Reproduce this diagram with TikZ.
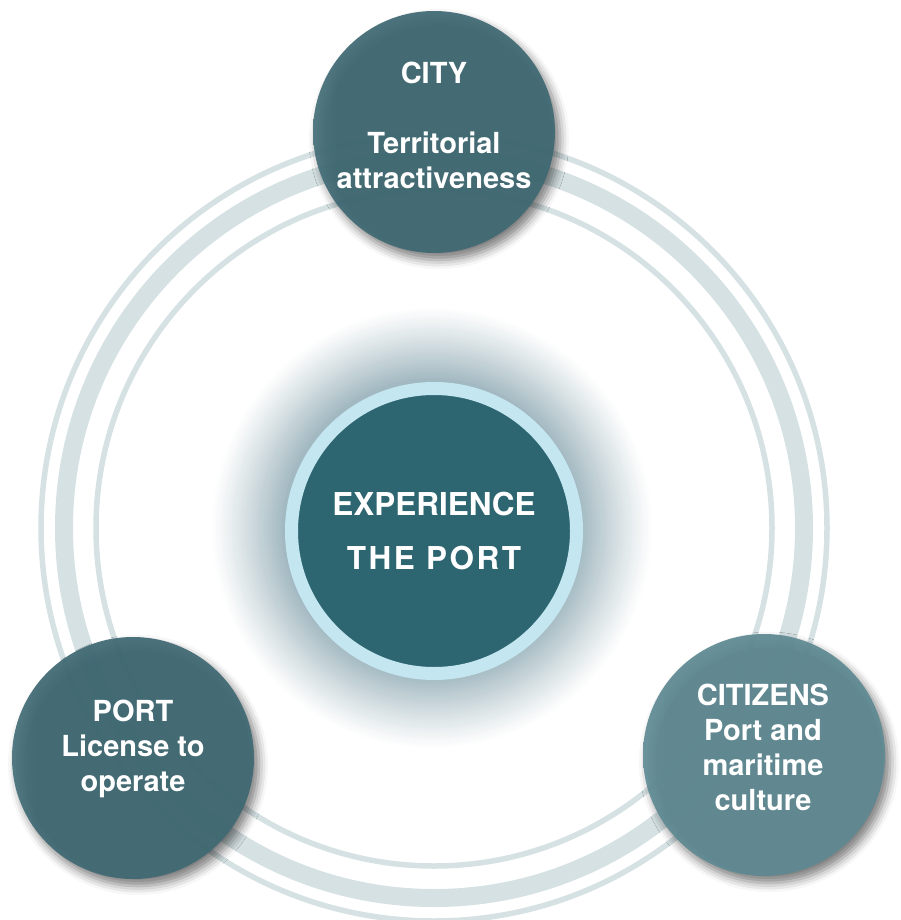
\documentclass[tikz,border=0pt]{standalone}
\usepackage{fontspec}
\setmainfont{TeX Gyre Heros}
\usetikzlibrary{shadows.blur}

\definecolor{ringgray}{HTML}{D5E1E3}
\definecolor{glowblue}{HTML}{A3B9C1}
\definecolor{hubteal}{HTML}{2D6671}
\definecolor{hubrim}{HTML}{C4E6F1}
\definecolor{citybase}{HTML}{406A74}
\definecolor{cityhl}{HTML}{6E969F}
\definecolor{citizbase}{HTML}{5F8A93}
\definecolor{citizhl}{HTML}{749CA5}

\pgfdeclarehorizontalshading{cityrim}{100bp}{color(0bp)=(cityhl); color(30bp)=(citybase); color(100bp)=(citybase)}
\pgfdeclarehorizontalshading{citizrim}{100bp}{color(0bp)=(citizhl); color(30bp)=(citizbase); color(100bp)=(citizbase)}

\tikzset{
  ringline/.style={draw=ringgray},
  sat/.style={circle, minimum size=242pt, inner sep=0pt, shade, fill opacity=.93,
    blur shadow={shadow xshift=5pt, shadow yshift=-7pt, shadow blur radius=9pt, shadow opacity=55}},
  sattext/.style={text=white, font=\bfseries\fontsize{29}{35}\selectfont, align=center},
  hubdisk/.style={circle, minimum size=285pt, inner sep=0pt, line width=13pt, draw=hubrim, fill=hubteal},
  hubtext/.style={text=white, font=\bfseries\fontsize{31.5}{54}\selectfont, align=center}
}

\begin{document}
\begin{tikzpicture}[x=1pt,y=-1pt]
  \useasboundingbox (0,0) rectangle (901,920);
  \coordinate (ringc) at (434,528);
  \coordinate (glowc) at (432,528);
  % glow behind the hub
  \foreach \r in {222,220,...,150}{
    \pgfmathtruncatemacro\pct{100*((222-\r)/72)^1.1}
    \fill[glowblue!\pct!white] (glowc) circle (\r);
  }
  % rings
  \foreach \r/\w in {393/5.5, 370/18, 338/5.5}
    \draw[ringline, line width=\w pt] (ringc) circle (\r);
  % satellites
  \node[sat, shading=cityrim] (city) at (434,132) {};
  \node[sat, shading=cityrim] (port) at (133,758) {};
  \node[sat, shading=citizrim] (citizens) at (764,755) {};
  \node[sattext] (citytxt) at (434,125) {CITY\\[35pt]Territorial\\attractiveness};
  \node[sattext] (porttxt) at (133,749) {PORT\\License to\\operate};
  \node[sattext] (citizenstxt) at (763,747) {CITIZENS\\Port and\\maritime\\culture};
  % hub
  \node[hubdisk] (hub) at (434,531) {};
  \node[hubtext] (hubtxt) at (434,531) {EXPERIENCE\\{\addfontfeature{LetterSpace=8}THE PORT}};
\end{tikzpicture}
\end{document}
